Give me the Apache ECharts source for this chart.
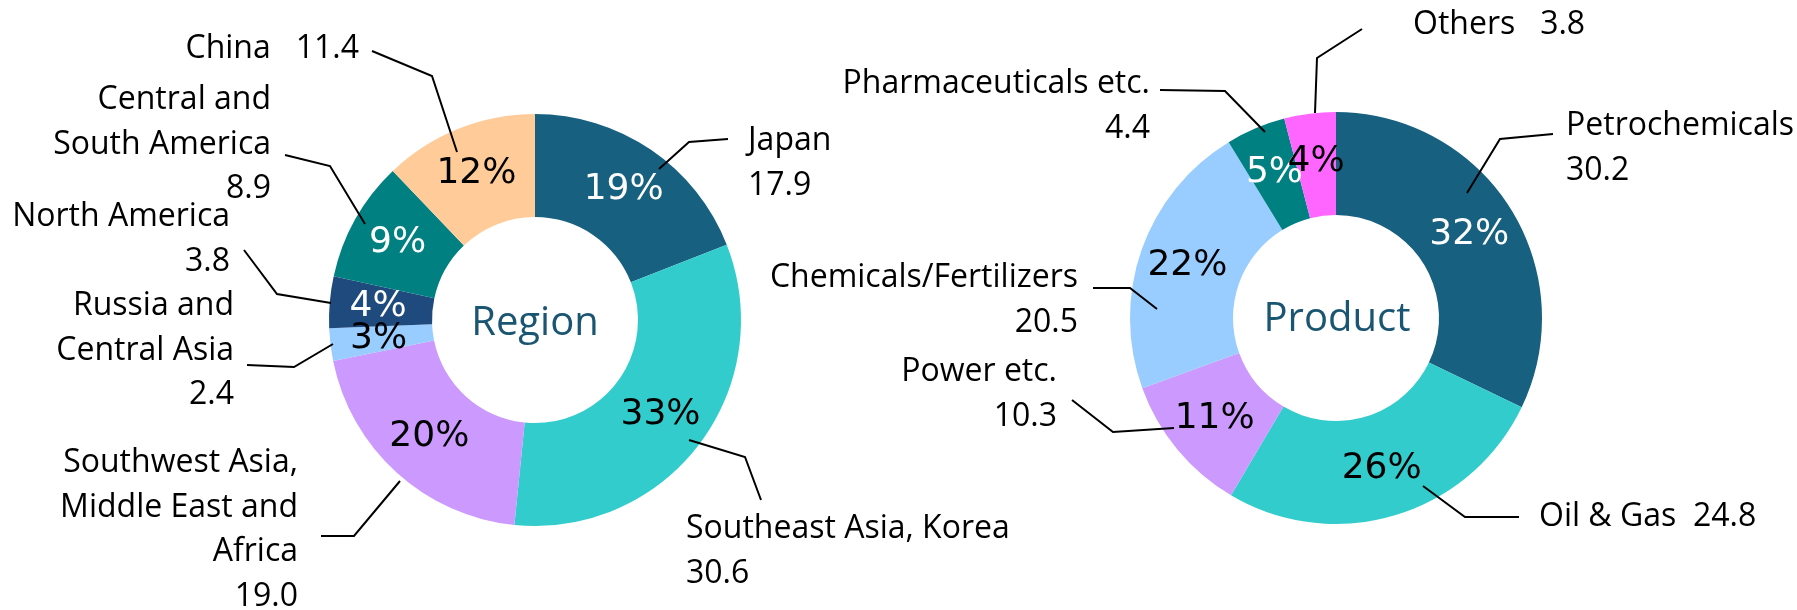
<!DOCTYPE html>
<html>
<head>
<meta charset="utf-8">
<script src="https://cdn.jsdelivr.net/npm/echarts@6/dist/echarts.min.js"></script>
<style>
html, body { margin: 0; padding: 0; background: #fff; }
#main { width: 1797px; height: 610px; }
</style>
</head>
<body>
<div id="main"></div>
<script>
// sales by region
var regionNames = ['Japan', 'Southeast Asia, Korea', 'Southwest Asia,\nMiddle East and\nAfrica', 'Russia and\nCentral Asia', 'North America', 'Central and\nSouth America', 'China'];
var regionValues = [17.9, 30.6, 19.0, 2.4, 3.8, 8.9, 11.4];

// sales by product
var productNames = ['Petrochemicals', 'Oil & Gas', 'Power etc.', 'Chemicals/Fertilizers', 'Pharmaceuticals etc.', 'Others'];
var productValues = [30.2, 24.8, 10.3, 20.5, 4.4, 3.8];

var regionColors = ['#17607f', '#33cccc', '#cc99ff', '#99ccff', '#1f4a7e', '#008080', '#ffcc99'];
var regionPctColors = ['#fff', '#000', '#000', '#000', '#fff', '#fff', '#000'];
var productColors = ['#17607f', '#33cccc', '#cc99ff', '#99ccff', '#008080', '#ff66ff'];
var productPctColors = ['#fff', '#000', '#000', '#000', '#fff', '#000'];

// where the category labels sit (x, middle of first line) and their leader lines
var regionSpots = [
    {x: 748, y: 141, align: 'left', sep: '\n', line: [[659, 169], [689, 142], [728, 139]]},
    {x: 686, y: 529, align: 'left', sep: '\n', line: [[689, 440], [745, 457], [761, 500]]},
    {x: 298, y: 463, align: 'right', sep: '\n', line: [[400, 481], [354, 536], [321, 536]]},
    {x: 234, y: 306, align: 'right', sep: '\n', line: [[333, 344], [294, 367], [247, 365]]},
    {x: 230, y: 217, align: 'right', sep: '\n', line: [[331, 303], [277, 294], [244, 250]]},
    {x: 271, y: 100, align: 'right', sep: '\n', line: [[365, 224], [330, 166], [285, 155]]},
    {x: 359, y: 49, align: 'right', sep: '   ', line: [[457, 152], [432, 76], [372, 51]]}
];
var productSpots = [
    {x: 1566, y: 126, align: 'left', sep: '\n', line: [[1467, 193], [1500, 139], [1553, 134]]},
    {x: 1539, y: 517, align: 'left', sep: '  ', line: [[1423, 486], [1465, 517], [1519, 517]]},
    {x: 1057, y: 372, align: 'right', sep: '\n', line: [[1174, 428], [1113, 432], [1072, 400]]},
    {x: 1078, y: 278, align: 'right', sep: '\n', line: [[1157, 309], [1130, 288], [1093, 288]]},
    {x: 1150, y: 84, align: 'right', sep: '\n', line: [[1265, 132], [1225, 91], [1160, 90]]},
    {x: 1413, y: 25, align: 'left', sep: '   ', line: [[1315, 113], [1317, 58], [1362, 29]]}
];

var lineH = 44.5;
var textFont = '"Open Sans", Lato, sans-serif';

function donut(center, names, values, colors, pctColors, spots) {
    var ring = {
        type: 'pie',
        center: center,
        radius: [103, 206],
        startAngle: 90,
        percentPrecision: 0,
        silent: true,
        label: {
            position: 'inside',
            formatter: '{d}%',
            fontFamily: 'DejaVu Sans',
            fontSize: 36
        },
        labelLine: {show: false},
        labelLayout: {hideOverlap: false},
        data: names.map(function (n, i) {
            return {
                name: n,
                value: values[i],
                itemStyle: {color: colors[i]},
                label: {color: pctColors[i]}
            };
        })
    };
    var tags = {
        type: 'pie',
        center: center,
        radius: [103, 206],
        startAngle: 90,
        silent: true,
        z: 3,
        itemStyle: {color: 'rgba(0,0,0,0)'},
        label: {
            position: 'outside',
            color: '#000',
            fontFamily: textFont,
            fontSize: 32,
            lineHeight: lineH,
            width: 420,
            overflow: 'none',
            formatter: function (p) {
                return p.name + spots[p.dataIndex].sep + p.value.toFixed(1);
            }
        },
        labelLine: {show: true, lineStyle: {color: '#000', width: 2}},
        labelLayout: function (p) {
            var s = spots[p.dataIndex];
            return {
                x: s.x,
                y: s.y - lineH / 2,
                align: s.align,
                verticalAlign: 'top',
                hideOverlap: false,
                labelLinePoints: s.line
            };
        },
        data: names.map(function (n, i) {
            return {name: n, value: values[i]};
        })
    };
    return [ring, tags];
}

var myChart = echarts.init(document.getElementById('main'));
var option = {
    animation: false,
    graphic: [
        {type: 'text', x: 535, y: 324, style: {text: 'Region', fill: '#1a5572', font: '40px ' + textFont, textAlign: 'center', textVerticalAlign: 'middle'}},
        {type: 'text', x: 1337, y: 320, style: {text: 'Product', fill: '#1a5572', font: '40px ' + textFont, textAlign: 'center', textVerticalAlign: 'middle'}}
    ],
    series: donut([535, 320], regionNames, regionValues, regionColors, regionPctColors, regionSpots)
        .concat(donut([1336, 318], productNames, productValues, productColors, productPctColors, productSpots))
};
myChart.setOption(option);
</script>
</body>
</html>
